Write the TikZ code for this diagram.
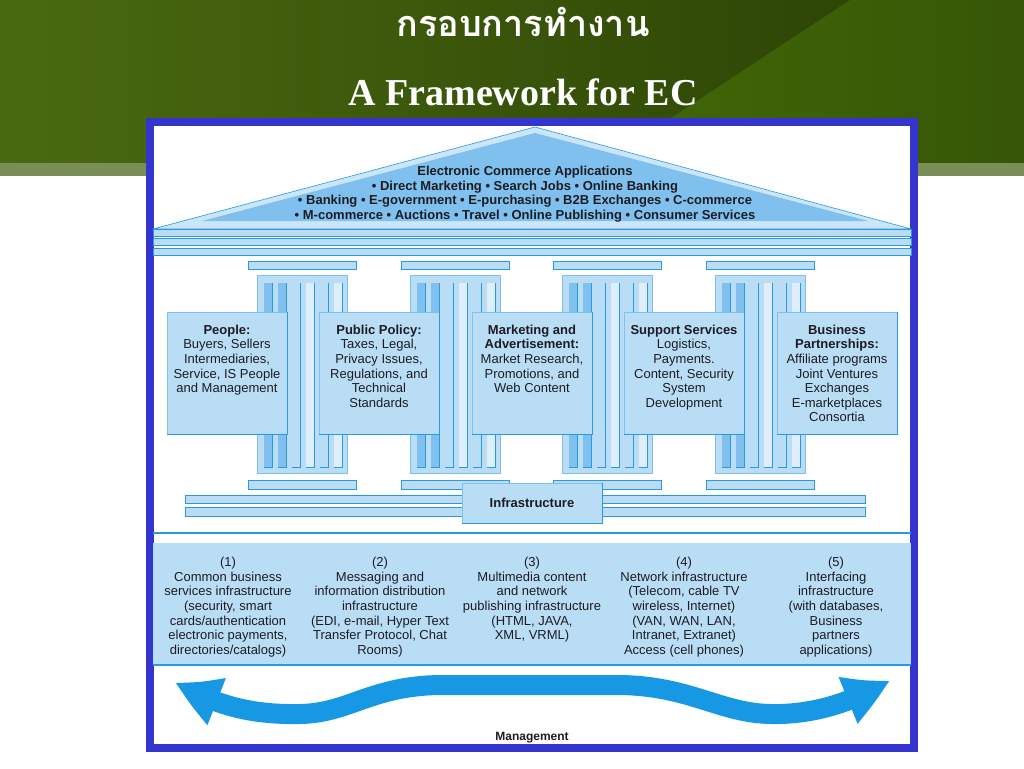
\documentclass[tikz,border=0pt]{standalone}
\usepackage{fontspec}
\setmainfont{Liberation Sans}
\newfontfamily\titulo{Liberation Serif}
\newfontfamily\thai[Script=Thai]{Loma}
\usepackage{xcolor}
\definecolor{celestecl}{RGB}{186,221,246}
\definecolor{celestemd}{RGB}{128,192,238}
\definecolor{celestefd}{RGB}{222,239,251}
\definecolor{azulln}{RGB}{42,152,226}
\definecolor{azulmarco}{RGB}{52,52,206}
\definecolor{azulflecha}{RGB}{22,152,228}
\definecolor{verdecl}{RGB}{74,106,16}
\definecolor{verdeos}{RGB}{40,62,4}
\definecolor{verdemd}{RGB}{66,104,8}
\definecolor{verdeder}{RGB}{54,86,6}
\definecolor{verdegris}{RGB}{124,142,88}
\definecolor{tinta}{RGB}{28,28,34}
\usepackage{tikz}
\usetikzlibrary{arrows.meta, bending, positioning}

\begin{document}
\begin{tikzpicture}[x=1pt, y=-1pt,
    caja/.style={fill=celestecl, draw=celestemd, line width=0.6pt, minimum width=120pt, minimum height=122pt, inner sep=0pt},
    texto/.style={align=center, text=tinta, font=\fontsize{13}{14.6}\selectfont, inner sep=0pt},
    banda/.style={fill=celestecl, draw=azulln, line width=0.6pt}]
    \useasboundingbox (0,0) rectangle (1024,768);
    % Fondo verde de la diapositiva
    \fill[white] (0,0) rectangle (1024,768);
    \shade[left color=verdecl, right color=verdeos] (0,0) rectangle (1024,163);
    \shade[left color=verdemd, right color=verdeder] (850,0) -- (1024,0) -- (1024,163) -- (603,163) -- cycle;
    \fill[verdegris] (0,163) rectangle (1024,176);
    % Titulos
    \node[text=white, font=\thai\bfseries\fontsize{36}{36}\selectfont, anchor=base] (tituloth) at (523,37) {กรอบการทำงาน};
    \node[text=white, font=\titulo\bfseries\fontsize{38}{38}\selectfont, anchor=base] (tituloen) at (523,105) {A Framework for EC};
    % Marco azul
    \draw[azulmarco, line width=8pt, fill=white] (150,122) rectangle (914,748);
    % Techo con las aplicaciones
    \filldraw[fill=celestefd!50!celestecl, draw=azulln, line width=0.6pt] (153,229) -- (535,127) -- (911,229) -- cycle;
    \fill[celestemd] (202,221) -- (535,133) -- (868,221) -- cycle;
    \node[texto, font=\bfseries\fontsize{13}{14.6}\selectfont] (techo) at (525,194) {Electronic Commerce Applications\\
        • Direct Marketing • Search Jobs • Online Banking\\
        • Banking • E-government • E-purchasing • B2B Exchanges • C-commerce\\
        • M-commerce • Auctions • Travel • Online Publishing • Consumer Services};
    \foreach \y in {229,238,248} {
        \draw[banda] (153,\y) rectangle (911,\y+7);
    }
    % Columnas
    \foreach \c in {302,455,607,760} {
        \draw[banda] (\c-54,261) rectangle (\c+54,269);
        \draw[banda, draw=celestemd] (\c-45,275) rectangle (\c+45,473);
        \foreach \i/\tono in {0/celestemd,1/celestemd,2/celestecl,3/celestefd,4/celestecl,5/celestefd} {
            \fill[\tono] (\c-38+\i*14,283) rectangle ++(8,184);
            \draw[azulln] (\c-30+\i*14,283) -- ++(0,184) -- ++(-8,0);
        }
        \draw[banda] (\c-54,480) rectangle (\c+54,489);
    }
    % Barras de la infraestructura
    \draw[banda] (185,495) rectangle (865,503);
    \draw[banda] (185,507) rectangle (865,516);
    \node[caja, minimum width=140pt, minimum height=40pt, text=tinta, font=\bfseries\fontsize{13}{14.6}\selectfont] (infra) at (532,503) {Infrastructure};
    % Cajas sobre las columnas
    \node[caja] (people) at (227,373) {};
    \node[caja] (policy) at (379,373) {};
    \node[caja] (marketing) at (532,373) {};
    \node[caja] (support) at (684,373) {};
    \node[caja] (partners) at (837,373) {};
    \foreach \n in {people,policy,marketing,support,partners,infra} {
        \draw[azulln, line width=0.9pt] (\n.north east) -- (\n.south east) -- (\n.south west);
    }
    \node[texto, below=13pt of people.north] (peopleT) {\textbf{People:}\\ Buyers, Sellers\\ Intermediaries,\\ Service, IS People\\ and Management};
    \node[texto, below=13pt of policy.north] (policyT) {\textbf{Public Policy:}\\ Taxes, Legal,\\ Privacy Issues,\\ Regulations, and\\ Technical\\ Standards};
    \node[texto, below=13pt of marketing.north] (marketingT) {\textbf{Marketing and}\\ \textbf{Advertisement:}\\ Market Research,\\ Promotions, and\\ Web Content};
    \node[texto, below=13pt of support.north] (supportT) {\textbf{Support Services}\\ Logistics,\\ Payments.\\ Content, Security\\ System\\ Development};
    \node[texto, below=13pt of partners.north] (partnersT) {\textbf{Business}\\ \textbf{Partnerships:}\\ Affiliate programs\\ Joint Ventures\\ Exchanges\\ E-marketplaces\\ Consortia};
    % Cimientos
    \draw[azulln, line width=1.6pt] (153,533) -- (911,533);
    \fill[celestecl] (153,543) rectangle (911,665);
    \draw[azulln, line width=1.4pt] (153,665) -- (911,665);
    \node[texto, anchor=north] (base1) at (228,557) {(1)\\ Common business\\ services infrastructure\\ (security, smart\\ cards/authentication\\ electronic payments,\\ directories/catalogs)};
    \node[texto, anchor=north] (base2) at (380,557) {(2)\\ Messaging and\\ information distribution\\ infrastructure\\ (EDI, e-mail, Hyper Text\\ Transfer Protocol, Chat\\ Rooms)};
    \node[texto, anchor=north] (base3) at (532,557) {(3)\\ Multimedia content\\ and network\\ publishing infrastructure\\ (HTML, JAVA,\\ XML, VRML)};
    \node[texto, anchor=north] (base4) at (684,557) {(4)\\ Network infrastructure\\ (Telecom, cable TV\\ wireless, Internet)\\ (VAN, WAN, LAN,\\ Intranet, Extranet)\\ Access (cell phones)};
    \node[texto, anchor=north] (base5) at (836,557) {(5)\\ Interfacing\\ infrastructure\\ (with databases,\\ Business\\ partners\\ applications)};
    % Flecha de la gestion
    \coordinate (mgL) at (175,682);
    \coordinate (mgR) at (890,680);
    \draw[azulflecha, line width=20pt, {Triangle[length=48pt,width=46pt,bend]}-{Triangle[length=48pt,width=46pt,bend]}] (mgL) .. controls (215,705) and (250,715) .. (300,714) .. controls (350,713) and (370,686) .. (440,685) -- (620,685) .. controls (690,686) and (720,713) .. (770,714) .. controls (810,715) and (850,704) .. (mgR);
    \node[texto, font=\bfseries\fontsize{12}{14}\selectfont] (gestion) at (532,738) {Management};
\end{tikzpicture}
\end{document}
